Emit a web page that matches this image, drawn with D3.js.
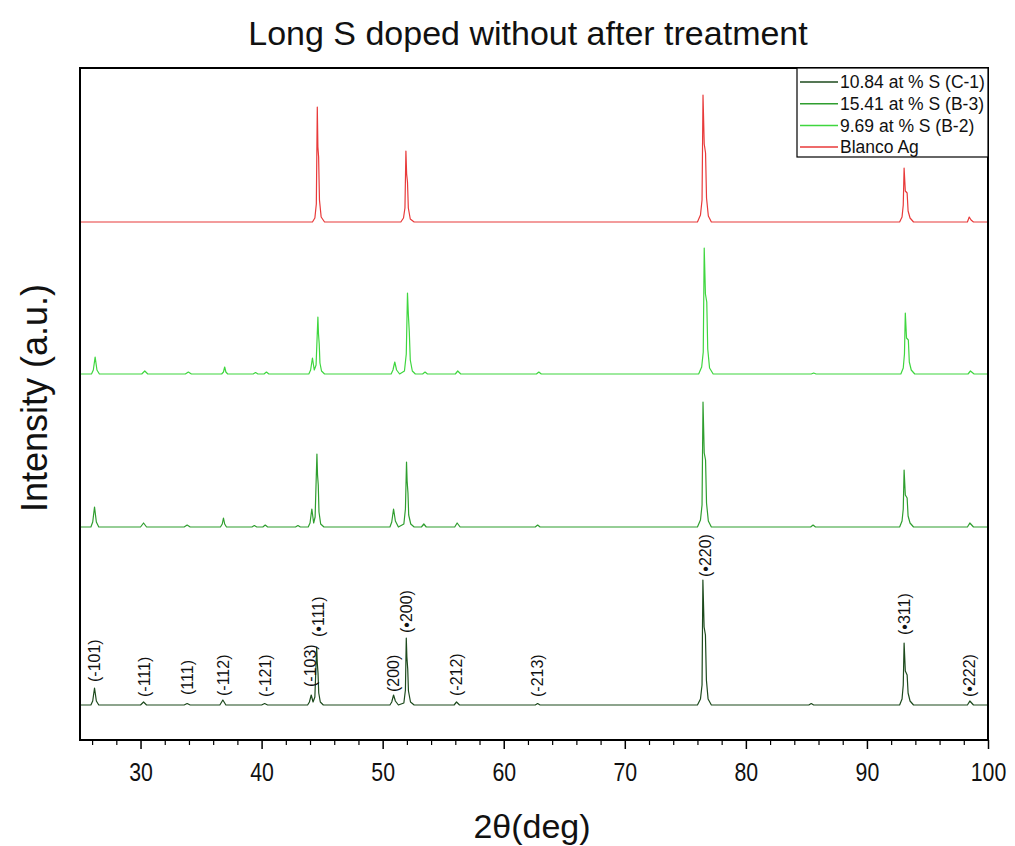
<!DOCTYPE html>
<html lang="en">
<head>
  <meta charset="UTF-8">
  <title>Long S doped without after treatment</title>
  <script src="https://d3js.org/d3.v7.min.js"></script>
  <style>
    * { margin: 0; padding: 0; box-sizing: border-box; }
    body { width: 1015px; height: 846px; background: #fff; font-family: "Liberation Sans", Arial, sans-serif; }
  </style>
</head>
<body>
  <div id="chart"></div>

  <script>
    // Series meta
    const seriesNames = ['10.84 at % S (C-1)', '15.41 at % S (B-3)', '9.69 at % S (B-2)', 'Blanco Ag'];
    const seriesColors = ['#1d4a1d', '#2f9e2f', '#3fd63f', '#e83a3a'];
    const seriesOffsets = [35, 213, 366, 518];   // vertical stacking (a.u.)

    // Patterns: [2theta, intensity above own baseline]
    const c1Points = [
      [25, 0], [25.9, 0], [26.05, 4], [26.2, 17], [26.35, 4], [26.55, 0],
      [30.0, 0], [30.25, 3], [30.5, 0],
      [33.6, 0], [33.85, 1.5], [34.1, 0],
      [36.55, 0], [36.8, 5], [37.05, 0],
      [40.0, 0], [40.25, 1.5], [40.5, 0],
      [43.8, 0], [43.95, 3], [44.1, 10], [44.25, 3], [44.4, 8], [44.55, 58], [44.6, 42], [44.66, 32], [44.72, 12], [44.85, 3], [45.1, 0],
      [50.6, 0], [50.75, 3], [50.9, 10], [51.05, 4], [51.3, 0], [51.75, 2], [51.88, 15], [51.95, 67], [52.0, 48], [52.07, 36], [52.13, 14], [52.3, 3], [52.6, 0],
      [55.9, 0], [56.1, 3], [56.35, 0],
      [62.6, 0], [62.8, 1.5], [63.0, 0],
      [76.0, 0], [76.25, 6], [76.38, 20], [76.45, 125], [76.55, 78], [76.66, 70], [76.74, 25], [76.88, 6], [77.15, 0],
      [85.2, 0], [85.4, 1.5], [85.6, 0],
      [92.7, 0], [92.9, 6], [93.0, 20], [93.07, 62], [93.17, 34], [93.32, 30], [93.4, 12], [93.56, 4], [93.85, 0],
      [98.3, 0], [98.5, 4], [98.65, 2], [98.8, 0],
      [100, 0]
    ];

    const b3Points = [
      [25, 0], [25.9, 0], [26.05, 5], [26.2, 20], [26.35, 5], [26.55, 0],
      [30.0, 0], [30.25, 4], [30.5, 0],
      [33.6, 0], [33.85, 2], [34.1, 0],
      [36.6, 0], [36.75, 3], [36.85, 9], [36.95, 3], [37.1, 0],
      [39.2, 0], [39.4, 1.5], [39.6, 0], [40.1, 0], [40.3, 2], [40.5, 0],
      [42.8, 0], [43.0, 1.5], [43.2, 0],
      [43.85, 0], [44.0, 4], [44.15, 18], [44.3, 4], [44.42, 10], [44.57, 73], [44.62, 52], [44.68, 42], [44.74, 15], [44.88, 3], [45.15, 0],
      [50.6, 0], [50.75, 5], [50.9, 18], [51.05, 6], [51.3, 0], [51.75, 3], [51.88, 18], [51.97, 65], [52.02, 46], [52.09, 34], [52.15, 12], [52.32, 3], [52.6, 0],
      [53.2, 0], [53.4, 3], [53.6, 0],
      [55.95, 0], [56.15, 4], [56.4, 0],
      [62.6, 0], [62.8, 2], [63.0, 0],
      [76.0, 0], [76.25, 7], [76.38, 22], [76.46, 125], [76.56, 74], [76.67, 67], [76.75, 24], [76.9, 6], [77.15, 0],
      [85.35, 0], [85.55, 2], [85.75, 0],
      [92.7, 0], [92.9, 6], [93.0, 18], [93.07, 57], [93.17, 32], [93.32, 29], [93.4, 11], [93.56, 4], [93.85, 0],
      [98.3, 0], [98.5, 4], [98.65, 2], [98.8, 0],
      [100, 0]
    ];

    const b2Points = [
      [25, 0], [25.95, 0], [26.1, 4], [26.25, 17], [26.4, 4], [26.6, 0],
      [30.1, 0], [30.35, 3], [30.6, 0],
      [33.7, 0], [33.95, 2], [34.2, 0],
      [36.7, 0], [36.85, 2], [36.95, 7], [37.05, 2], [37.2, 0],
      [39.3, 0], [39.5, 1.5], [39.7, 0], [40.2, 0], [40.4, 2], [40.6, 0],
      [43.9, 0], [44.05, 4], [44.2, 16], [44.35, 4], [44.5, 9], [44.65, 57], [44.7, 40], [44.76, 30], [44.82, 11], [44.95, 3], [45.2, 0],
      [50.7, 0], [50.85, 4], [51.0, 12], [51.15, 4], [51.4, 0], [51.8, 3], [51.95, 20], [52.05, 81], [52.12, 60], [52.2, 42], [52.28, 14], [52.45, 3], [52.7, 0],
      [53.3, 0], [53.5, 2], [53.7, 0],
      [56.0, 0], [56.2, 3], [56.45, 0],
      [62.7, 0], [62.9, 2], [63.1, 0],
      [76.1, 0], [76.35, 7], [76.48, 22], [76.56, 126], [76.66, 80], [76.77, 72], [76.85, 25], [77.0, 6], [77.3, 0],
      [85.4, 0], [85.6, 1], [85.8, 0],
      [92.8, 0], [93.0, 6], [93.1, 20], [93.17, 61], [93.27, 36], [93.42, 34], [93.5, 12], [93.66, 4], [93.95, 0],
      [98.35, 0], [98.55, 3], [98.7, 1.5], [98.85, 0],
      [100, 0]
    ];

    const blancoPoints = [
      [25, 0],
      [44.2, 0], [44.4, 4], [44.52, 18], [44.6, 115], [44.65, 75], [44.71, 65], [44.78, 22], [44.92, 5], [45.2, 0],
      [51.5, 0], [51.72, 4], [51.84, 14], [51.92, 71], [51.98, 48], [52.05, 40], [52.12, 14], [52.28, 3], [52.6, 0],
      [76.0, 0], [76.25, 7], [76.38, 22], [76.46, 127], [76.56, 78], [76.67, 69], [76.75, 24], [76.9, 6], [77.15, 0],
      [92.7, 0], [92.9, 5], [93.0, 17], [93.07, 54], [93.17, 31], [93.32, 29], [93.4, 11], [93.56, 4], [93.85, 0],
      [98.3, 0], [98.45, 5], [98.6, 2], [98.8, 0],
      [100, 0]
    ];

    // Peak labels for the C-1 pattern: [text, 2theta, intensity at label foot]
    const peakLabels = [
      ['(-101)', 26.2, 58], ['(-111)', 30.3, 43], ['(111)', 33.9, 45], ['(-112)', 36.85, 44],
      ['(-121)', 40.3, 43], ['(-103)', 44.0, 53], ['(\u2022111)', 44.65, 103], ['(200)', 50.9, 48],
      ['(\u2022200)', 52.0, 107], ['(-212)', 56.1, 44], ['(-213)', 62.8, 43], ['(\u2022220)', 76.65, 163],
      ['(\u2022311)', 93.1, 105], ['(\u2022222)', 98.5, 43]
    ];

    const xMajorTicks = [30, 40, 50, 60, 70, 80, 90, 100];
    const xMinorTicks = d3.range(26, 100, 2).filter(v => v % 10 !== 0);

    const allSeries = [c1Points, b3Points, b2Points, blancoPoints];

    // Dimensions
    const width = 1015, height = 846;
    const margin = { top: 68, right: 27, bottom: 106, left: 80 };
    const innerW = width - margin.left - margin.right;
    const innerH = height - margin.top - margin.bottom;

    const svg = d3.select('#chart').append('svg')
      .attr('width', width)
      .attr('height', height);

    const g = svg.append('g').attr('transform', `translate(${margin.left},${margin.top})`);

    const x = d3.scaleLinear().domain([25, 100]).range([0, innerW]);
    const y = d3.scaleLinear().domain([0, innerH]).range([innerH, 0]);

    // Traces
    allSeries.forEach((pts, i) => {
      const line = d3.line()
        .x(d => x(d[0]))
        .y(d => y(d[1] + seriesOffsets[i]));
      g.append('path')
        .datum(pts)
        .attr('fill', 'none')
        .attr('stroke', seriesColors[i])
        .attr('stroke-width', 1.2)
        .attr('stroke-linejoin', 'round')
        .attr('d', line);
    });

    // Peak labels
    g.selectAll('.plabel')
      .data(peakLabels)
      .enter()
      .append('text')
      .attr('class', 'plabel')
      .attr('transform', d => `translate(${x(d[1])},${y(d[2])}) rotate(-90)`)
      .attr('dy', '0.35em')
      .attr('font-size', 16)
      .attr('fill', '#111')
      .text(d => d[0]);

    // X axis (major + minor ticks)
    const xAxis = g.append('g')
      .attr('transform', `translate(0,${innerH})`)
      .call(d3.axisBottom(x).tickValues(xMajorTicks).tickSize(9).tickPadding(14).tickFormat(d3.format('d')));
    xAxis.select('.domain').remove();
    xAxis.selectAll('.tick line').attr('stroke', '#000').attr('stroke-width', 1.5);
    xAxis.selectAll('.tick text')
      .attr('font-size', 26)
      .attr('font-family', '"Liberation Sans", Arial, sans-serif')
      .attr('fill', '#111')
      .attr('transform', 'scale(0.82,1)');

    const xMinor = g.append('g')
      .attr('transform', `translate(0,${innerH})`)
      .call(d3.axisBottom(x).tickValues(xMinorTicks).tickSize(5).tickFormat(''));
    xMinor.select('.domain').remove();
    xMinor.selectAll('.tick line').attr('stroke', '#000').attr('stroke-width', 1.2);

    // Frame
    g.append('rect')
      .attr('x', 0).attr('y', 0)
      .attr('width', innerW).attr('height', innerH)
      .attr('fill', 'none')
      .attr('stroke', '#000')
      .attr('stroke-width', 2);

    // Legend
    const legend = g.append('g').attr('transform', `translate(${innerW - 191},0)`);
    legend.append('rect')
      .attr('width', 191).attr('height', 89)
      .attr('fill', '#fff')
      .attr('stroke', '#000')
      .attr('stroke-width', 1.2);
    seriesNames.forEach((name, i) => {
      const row = legend.append('g').attr('transform', `translate(0,${14 + i * 21.7})`);
      row.append('line')
        .attr('x1', 3).attr('x2', 41)
        .attr('stroke', seriesColors[i])
        .attr('stroke-width', 1.5);
      row.append('text')
        .attr('x', 43)
        .attr('dy', '0.35em')
        .attr('font-size', 17.5)
        .attr('fill', '#111')
        .text(name);
    });

    // Titles
    svg.append('text')
      .attr('x', 528).attr('y', 45)
      .attr('text-anchor', 'middle')
      .attr('font-size', 34)
      .attr('fill', '#111')
      .text('Long S doped without after treatment');

    svg.append('text')
      .attr('x', 532).attr('y', 838)
      .attr('text-anchor', 'middle')
      .attr('font-size', 34)
      .attr('fill', '#111')
      .text('2\u03b8(deg)');

    svg.append('text')
      .attr('transform', 'translate(47,398) rotate(-90)')
      .attr('text-anchor', 'middle')
      .attr('font-size', 36)
      .attr('fill', '#111')
      .text('Intensity (a.u.)');
  </script>
</body>
</html>
